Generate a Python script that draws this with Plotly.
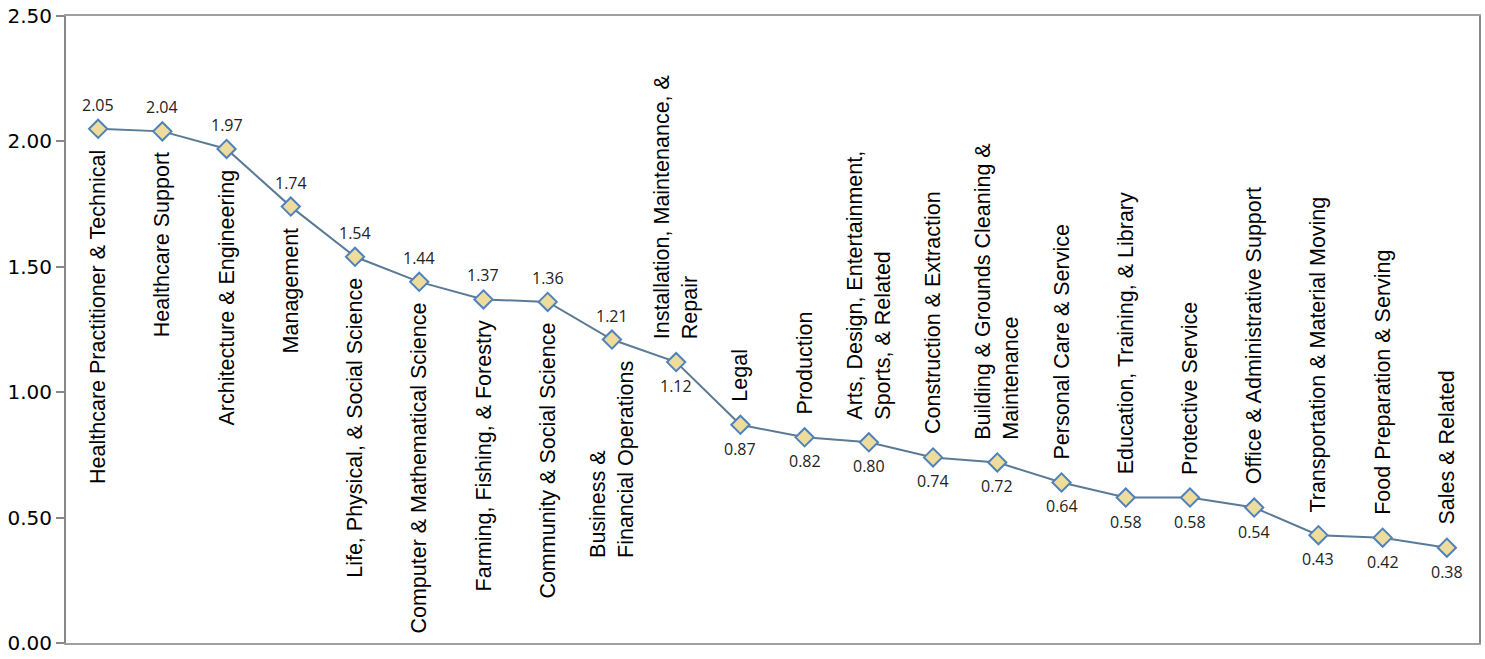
import plotly.graph_objects as go

categories = [
    "Healthcare Practitioner & Technical",
    "Healthcare Support",
    "Architecture & Engineering",
    "Management",
    "Life, Physical, & Social Science",
    "Computer & Mathematical Science",
    "Farming, Fishing, & Forestry",
    "Community & Social Science",
    "Business &<br>Financial Operations",
    "Installation, Maintenance, &<br>Repair",
    "Legal",
    "Production",
    "Arts, Design, Entertainment,<br>Sports, & Related",
    "Construction & Extraction",
    "Building & Grounds Cleaning &<br>Maintenance",
    "Personal Care & Service",
    "Education, Training, & Library",
    "Protective Service",
    "Office & Administrative Support",
    "Transportation & Material Moving",
    "Food Preparation & Serving",
    "Sales & Related",
]
values = [2.05, 2.04, 1.97, 1.74, 1.54, 1.44, 1.37, 1.36, 1.21, 1.12, 0.87,
          0.82, 0.80, 0.74, 0.72, 0.64, 0.58, 0.58, 0.54, 0.43, 0.42, 0.38]
y_ticks = [0.0, 0.5, 1.0, 1.5, 2.0, 2.5]
y_tick_labels = ["0.00", "0.50", "1.00", "1.50", "2.00", "2.50"]

SPLIT = 9  # first points: category label below, value above

x = list(range(len(values)))

fig = go.Figure()
fig.add_trace(go.Scatter(
    x=x, y=values, mode="lines+markers",
    line=dict(color="#5B7A96", width=2),
    marker=dict(symbol="diamond", size=14, color="#EEDC9C",
                line=dict(color="#4F81BD", width=2)),
    hoverinfo="skip", showlegend=False,
))

annotations = []
for i, (c, v) in enumerate(zip(categories, values)):
    below = i < SPLIT
    annotations.append(dict(
        x=i, y=v, xref="x", yref="y", text=c, showarrow=False,
        textangle=-90, align="left", xanchor="center",
        yanchor="top" if below else "bottom",
        yshift=-19 if below else 21,
        font=dict(family="Liberation Sans, Arial", size=21.5, color="#000000"),
    ))
    annotations.append(dict(
        x=i, y=v, xref="x", yref="y", text=f"{v:.2f}", showarrow=False,
        xanchor="center", yanchor="middle",
        yshift=24 if below else -24,
        font=dict(family="Open Sans", size=16, color="#222222"),
    ))

fig.update_layout(
    width=1485, height=659,
    margin=dict(l=66, r=4, t=14, b=13),
    paper_bgcolor="white", plot_bgcolor="white",
    annotations=annotations,
    xaxis=dict(range=[-0.5, len(values) - 0.5], showticklabels=False,
               showgrid=False, zeroline=False, ticks="",
               showline=True, linecolor="#A0A0A0", linewidth=2, mirror=True),
    yaxis=dict(range=[0, 2.5], tickvals=y_ticks, ticktext=y_tick_labels,
               showgrid=False, zeroline=False, ticks="outside", ticklen=8,
               tickcolor="#888888", tickwidth=2, ticklabeloverflow="allow",
               showline=True, linecolor="#888888", linewidth=2, mirror=True,
               tickfont=dict(family="DejaVu Sans", size=20, color="#000000")),
)

fig.write_html("out.html")
